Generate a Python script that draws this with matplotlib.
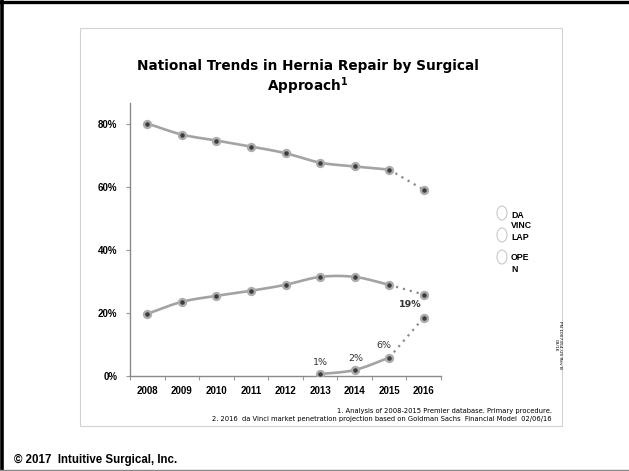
import numpy as np
import matplotlib
matplotlib.use("Agg")
import matplotlib.pyplot as plt
from matplotlib.patches import Rectangle, Ellipse
from matplotlib.lines import Line2D

years = ["2008", "2009", "2010", "2011", "2012", "2013", "2014", "2015", "2016"]
open_vals = [80.0, 76.5, 74.6, 72.7, 70.6, 67.6, 66.4, 65.4, 59.0]
lap_vals = [19.7, 23.5, 25.4, 27.0, 28.9, 31.4, 31.4, 28.9, 25.8]
dv_years = ["2013", "2014", "2015", "2016"]
dv_vals = [0.6, 1.9, 5.8, 18.5]
dv_labels = ["1%", "2%", "6%", "19%"]
yticks = [0, 20, 40, 60, 80]
legend_lines = [["DA", "VINC"], ["LAP"], ["OPE", "N"]]
footnotes = ["1. Analysis of 2008-2015 Premier database. Primary procedure.",
             "2. 2016  da Vinci market penetration projection based on Goldman Sachs  Financial Model  02/06/16"]

W, H = 629, 471
fig = plt.figure(figsize=(W / 100, H / 100), dpi=100)
fig.patch.set_facecolor("white")

def fx(px):
    return px / W

def fy(py):
    return 1 - py / H

ax = fig.add_axes([fx(130), fy(376), fx(441) - fx(130), fy(103) - fy(376)])

def catmull(xs, ys, n=30):
    xs = np.asarray(xs, float); ys = np.asarray(ys, float)
    P = np.column_stack([xs, ys])
    P = np.vstack([2 * P[0] - P[1], P, 2 * P[-1] - P[-2]])
    out = []
    for i in range(1, len(P) - 2):
        p0, p1, p2, p3 = P[i - 1], P[i], P[i + 1], P[i + 2]
        t = np.linspace(0, 1, n)[:, None]
        seg = 0.5 * ((2 * p1) + (-p0 + p2) * t + (2 * p0 - 5 * p1 + 4 * p2 - p3) * t ** 2
                     + (-p0 + 3 * p1 - 3 * p2 + p3) * t ** 3)
        out.append(seg)
    out = np.vstack(out)
    return out[:, 0], out[:, 1]

line_col = "#a3a3a3"
mk = dict(marker="o", markersize=5.0, markerfacecolor="#3c3c3c",
          markeredgecolor="#acacac", markeredgewidth=1.7, linestyle="none", zorder=4)

def draw_series(xidx, vals):
    sx, sy = catmull(xidx[:-1], vals[:-1])
    ax.plot(sx, sy, color=line_col, lw=1.9, zorder=2, solid_capstyle="round")
    ax.plot(xidx[-2:], vals[-2:], color="#8c8c8c", lw=1.6, linestyle=(0, (1, 2.2)), zorder=2)
    ax.plot(xidx, vals, **mk)

xi = np.arange(len(years))
draw_series(xi, open_vals)
draw_series(xi, lap_vals)
dxi = np.array([years.index(y) for y in dv_years])
draw_series(dxi, dv_vals)

# offsets in pixels (dpi=100 -> 1 px = 0.72 pt)
offsets_px = [(0, 12), (1, 12), (-5, 12), (-13, 13)]
for x, v, lab, off in zip(dxi, dv_vals, dv_labels, offsets_px):
    ax.annotate(lab, (x, v), xytext=(off[0] * 0.72, off[1] * 0.72), textcoords="offset points",
                ha="center", va="center", fontsize=6.8, color="#333333", family="DejaVu Sans",
                fontweight="bold" if lab == "19%" else "normal")

ax.set_xlim(-0.5, len(years) - 0.5)
ax.set_ylim(0, 86.5)
ax.set_xticks(xi)
ax.set_xticklabels(years, fontsize=7, fontweight="bold", family="Liberation Sans")
ax.set_xticks(np.arange(-0.5, len(years)), minor=True)
ax.tick_params(axis="x", which="major", length=0, pad=7)
ax.tick_params(axis="x", which="minor", length=3, color="#999999", width=0.8)
ax.set_yticks(yticks)
ax.set_yticklabels([f"{v}%" for v in yticks], fontsize=7, fontweight="bold", family="Liberation Sans")
ax.tick_params(axis="y", length=3, color="#999999", width=0.8, pad=6)
for s in ["top", "right"]:
    ax.spines[s].set_visible(False)
for s in ["left", "bottom"]:
    ax.spines[s].set_color("#8a8a8a")
    ax.spines[s].set_linewidth(1.0)
ax.set_facecolor("none")

# title
fig.text(fx(308), fy(66), "National Trends in Hernia Repair by Surgical", ha="center", va="center",
         fontsize=9.8, fontweight="bold", family="DejaVu Sans")
fig.text(fx(308), fy(86), "Approach$^{\\mathbf{1}}$", ha="center", va="center",
         fontsize=9.8, fontweight="bold", family="DejaVu Sans")

# legend
circle_y = [213, 235, 257]
for cy, lines in zip(circle_y, legend_lines):
    fig.add_artist(Ellipse((fx(502), fy(cy)), 10 / W, 14 / H, transform=fig.transFigure,
                           facecolor="white", edgecolor="#c8c8c8", lw=0.8))
text_pos = [(216, 226), (238,), (258, 269)]
for lines, ys in zip(legend_lines, text_pos):
    for t, yy in zip(lines, ys):
        fig.text(fx(511), fy(yy), t, ha="left", va="center", fontsize=6.3,
                 fontweight="bold", family="Liberation Sans")

# footnotes
fig.text(fx(552), fy(411), footnotes[0], ha="right", va="center", fontsize=4.9, family="DejaVu Sans")
fig.text(fx(552), fy(419), footnotes[1], ha="right", va="center", fontsize=4.9, family="DejaVu Sans")

# rotated part number
fig.text(fx(558), fy(345), "PN 1007354-US Rev B\n03/16", ha="center", va="center", rotation=270,
         fontsize=3.2, family="DejaVu Sans", multialignment="center")

# inner box
fig.add_artist(Rectangle((fx(80), fy(426)), fx(562) - fx(80), fy(28) - fy(426),
                         transform=fig.transFigure, facecolor="none", edgecolor="#d2d2d2", lw=0.8))

# copyright
fig.text(fx(14), fy(460), "\u00a9 2017  Intuitive Surgical, Inc.", ha="left", va="center",
         fontsize=8.3, fontweight="bold", family="Liberation Sans")

# frame
fig.add_artist(Line2D([0, 1], [fy(1.5), fy(1.5)], transform=fig.transFigure, color="black", lw=2.4))
fig.add_artist(Line2D([fx(2), fx(2)], [0, 1], transform=fig.transFigure, color="black", lw=2.6))
fig.add_artist(Line2D([0, 1], [fy(469.5), fy(469.5)], transform=fig.transFigure, color="#888888", lw=1.0))

fig.savefig("out.png", dpi=100)
